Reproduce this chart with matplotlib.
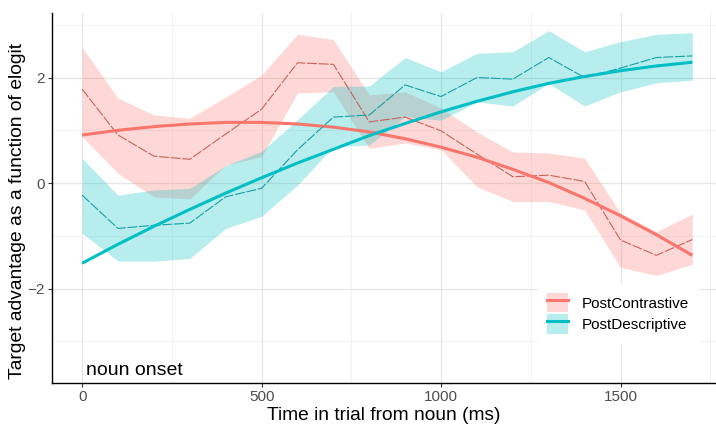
import matplotlib.pyplot as plt
import matplotlib.patches as mpatches
from matplotlib.lines import Line2D
import numpy as np

plt.rcParams['font.family'] = ['Liberation Sans', 'DejaVu Sans']

# time bins (ms)
time_ms = [0, 100, 200, 300, 400, 500, 600, 700, 800, 900,
           1000, 1100, 1200, 1300, 1400, 1500, 1600, 1700]

# PostContrastive: observed mean, ribbon, fitted curve
contr_obs = [1.78, 0.91, 0.51, 0.45, 0.93, 1.40, 2.28, 2.25, 1.16, 1.25,
             0.99, 0.55, 0.12, 0.15, 0.03, -1.08, -1.37, -1.07]
contr_hi = [2.57, 1.61, 1.29, 1.23, 1.63, 2.05, 2.82, 2.72, 1.67, 1.73,
            1.42, 0.97, 0.59, 0.57, 0.47, -0.57, -0.92, -0.59]
contr_lo = [0.88, 0.18, -0.26, -0.30, 0.34, 0.50, 1.71, 1.73, 0.66, 0.76,
            0.63, -0.07, -0.35, -0.35, -0.51, -1.60, -1.75, -1.54]
contr_fit = [0.91, 1.00, 1.07, 1.12, 1.15, 1.15, 1.12, 1.06, 0.97, 0.84,
             0.68, 0.49, 0.26, 0.01, -0.29, -0.62, -0.98, -1.37]

# PostDescriptive
descr_obs = [-0.23, -0.86, -0.80, -0.76, -0.26, -0.10, 0.63, 1.25, 1.29, 1.86,
             1.64, 2.00, 1.97, 2.38, 2.00, 2.18, 2.38, 2.41]
descr_hi = [0.47, -0.23, -0.13, -0.10, 0.33, 0.60, 1.20, 1.83, 1.84, 2.38,
            2.11, 2.46, 2.49, 2.89, 2.49, 2.68, 2.82, 2.85]
descr_lo = [-0.95, -1.48, -1.48, -1.43, -0.86, -0.63, -0.04, 0.69, 0.72, 1.26,
            1.19, 1.54, 1.46, 1.89, 1.46, 1.73, 1.90, 1.95]
descr_fit = [-1.52, -1.16, -0.82, -0.50, -0.19, 0.10, 0.38, 0.64, 0.90, 1.13,
             1.35, 1.55, 1.73, 1.89, 2.02, 2.13, 2.22, 2.29]

conditions = ["PostContrastive", "PostDescriptive"]
red = "#F8766D"
teal = "#00BFC4"

fig = plt.figure(figsize=(7.16, 4.26), dpi=100)
ax = fig.add_axes([0.0726, 0.101, 0.9274, 0.868])

series = [
    (contr_obs, contr_lo, contr_hi, contr_fit, red, "#c9625b"),
    (descr_obs, descr_lo, descr_hi, descr_fit, teal, "#17a0a4"),
]
for obs, lo, hi, fit, col, dcol in series:
    ax.fill_between(time_ms, lo, hi, color=col, alpha=0.28, lw=0)
    ax.plot(time_ms, obs, color=dcol, lw=0.8, ls=(0, (9, 1.5)))
    ax.plot(time_ms, fit, color=col, lw=2.2, solid_capstyle="butt")

ax.set_xlim(-84, 1766)
ax.set_ylim(-3.79, 3.22)
ax.set_xticks([0, 500, 1000, 1500])
ax.set_yticks([-2, 0, 2])
ax.set_xticks([250, 750, 1250, 1750], minor=True)
ax.set_yticks([-3, -1, 1, 3], minor=True)
ax.grid(which="major", color="#e6e6e6", lw=0.9)
ax.grid(which="minor", color="#f0f0f0", lw=0.6)
ax.set_axisbelow(True)
ax.tick_params(which="major", length=3, pad=2, color="#333333", labelsize=11,
               labelcolor="#4d4d4d")
ax.tick_params(which="minor", length=0)
for s in ["top", "right"]:
    ax.spines[s].set_visible(False)
for s in ["left", "bottom"]:
    ax.spines[s].set_color("black")
    ax.spines[s].set_linewidth(1.0)

ax.set_xlabel("Time in trial from noun (ms)", fontsize=13.8, labelpad=2)
ax.set_ylabel("Target advantage as a function of elogit", fontsize=13.9)
ax.yaxis.set_label_coords(-0.039, 0.465)
ax.text(12, -3.55, "noun onset", fontsize=14, va="center", ha="left")

handles = []
for col in [red, teal]:
    handles.append((mpatches.Patch(facecolor=col, alpha=0.28, lw=0),
                    Line2D([], [], color=col, lw=2.2)))
leg = ax.legend(handles, conditions, loc="lower right", bbox_to_anchor=(0.985, 0.088),
                frameon=True, fontsize=11, handlelength=1.4, handleheight=1.6,
                labelspacing=0.1, borderpad=0.6, handletextpad=0.9)
leg.get_frame().set_edgecolor("white")
leg.get_frame().set_facecolor("white")
leg.get_frame().set_alpha(1.0)

fig.savefig("out.png", dpi=100)
